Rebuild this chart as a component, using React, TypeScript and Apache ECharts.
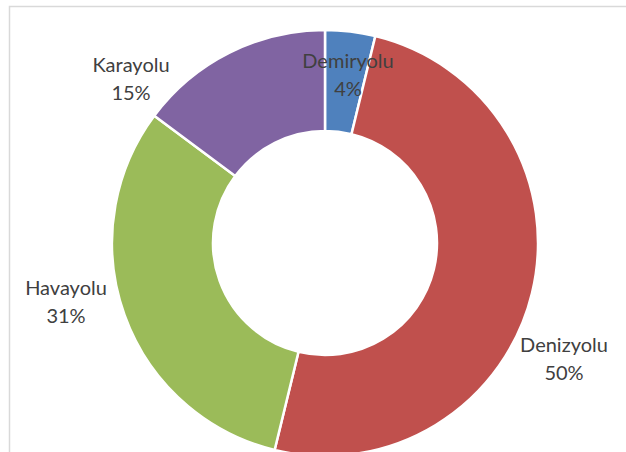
import React, { useEffect, useRef } from "react";
import * as echarts from "echarts";

const categories = ["Demiryolu", "Denizyolu", "Havayolu", "Karayolu"];
const values = [3.8, 50.0, 31.4, 14.8];
const colors = ["#4F81BD", "#C0504D", "#9BBB59", "#8064A2"];
const labelPos = [
  [348, 74],
  [564, 358],
  [66, 301],
  [131, 78],
];

export default function App() {
  const ref = useRef<HTMLDivElement>(null);
  useEffect(() => {
    const chart = echarts.init(ref.current!, null, { renderer: "svg" });
    chart.setOption({
      animation: false,
      backgroundColor: "#ffffff",
      graphic: [
        {
          type: "rect",
          shape: { x: 9.5, y: 6.5, width: 700, height: 500 },
          style: { fill: "none", stroke: "#d9d9d9", lineWidth: 1.5 },
          z: -10,
        },
      ],
      series: [
        {
          type: "pie",
          center: [325, 243],
          radius: [112, 213],
          startAngle: 90,
          clockwise: true,
          avoidLabelOverlap: false,
          itemStyle: { borderColor: "#ffffff", borderWidth: 2.5 },
          label: {
            show: true,
            position: "outside",
            formatter: (p: any) => `${p.name}\n${Math.round(p.percent)}%`,
            color: "#404040",
            fontFamily: "Lato, 'Open Sans', sans-serif",
            fontSize: 20,
            lineHeight: 28,
            align: "center",
          },
          labelLine: { show: false },
          labelLayout: (params: any) => {
            const pos = labelPos[params.dataIndex];
            return { x: pos[0], y: pos[1], align: "center", verticalAlign: "middle" };
          },
          emphasis: { disabled: true },
          data: categories.map((c, i) => ({
            name: c,
            value: values[i],
            itemStyle: { color: colors[i] },
          })),
        },
      ],
    });
    return () => chart.dispose();
  }, []);
  return (
    <div
      ref={ref}
      style={{ position: "absolute", left: 0, top: 0, width: 626, height: 452 }}
    />
  );
}
